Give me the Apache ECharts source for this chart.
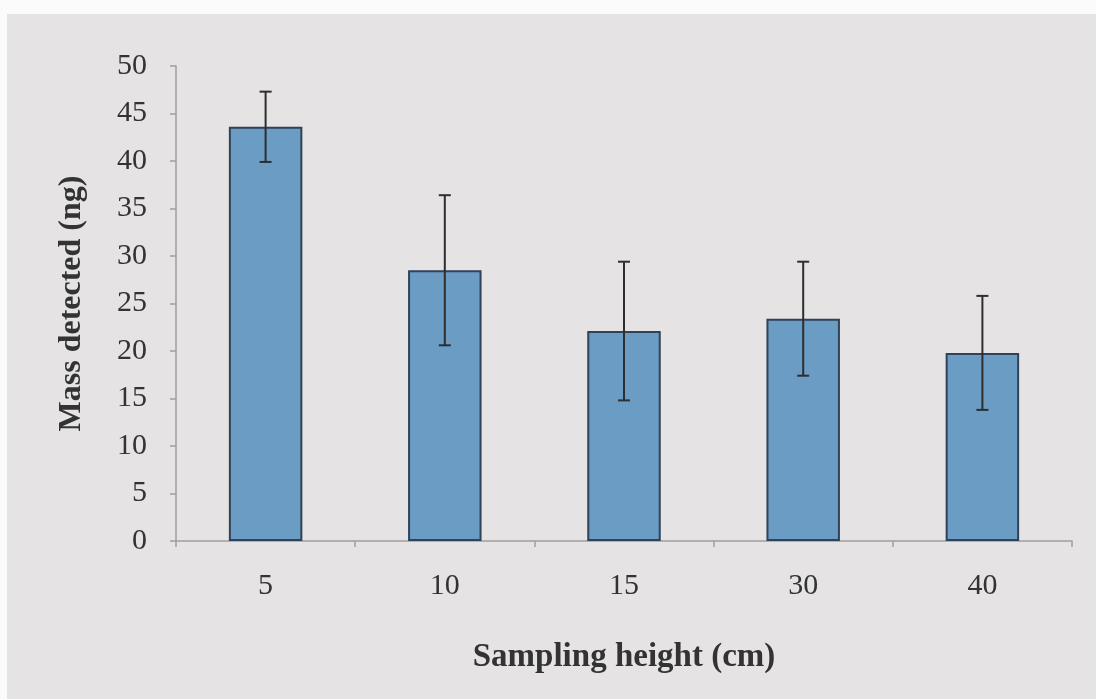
<!DOCTYPE html>
<html>
<head>
<meta charset="utf-8">
<script src="https://cdn.jsdelivr.net/npm/echarts@6/dist/echarts.min.js"></script>
<style>
  html, body { margin: 0; padding: 0; background: #fbfbfb; }
  #chart { width: 1096px; height: 699px; }
</style>
</head>
<body>
<div id="chart"></div>
<script>
// Sampling heights (cm) and mean mass detected (ng) with standard deviations
const heights = ['5', '10', '15', '30', '40'];
const massMean = [43.6, 28.5, 22.1, 23.4, 19.8];
const massErr = [3.7, 7.9, 7.3, 6.0, 6.0];
const yTicks = { min: 0, max: 50, interval: 5 };

const errorData = heights.map((h, i) => [i, massMean[i] - massErr[i], massMean[i] + massErr[i]]);

const serif = '"Liberation Serif", "DejaVu Serif", serif';
const chart = echarts.init(document.getElementById('chart'), null, { renderer: 'canvas' });

chart.setOption({
  backgroundColor: '#fbfbfb',
  animation: false,
  graphic: [{
    type: 'rect',
    z: -10,
    silent: true,
    shape: { x: 7, y: 14, width: 1089, height: 685 },
    style: { fill: '#e5e3e3' }
  }],
  grid: { left: 176, right: 24, top: 66, bottom: 158 },
  xAxis: {
    type: 'category',
    data: heights,
    boundaryGap: true,
    axisLine: { lineStyle: { color: '#a09e9e', width: 1.5 } },
    axisTick: { show: true, alignWithLabel: false, length: 6, lineStyle: { color: '#a09e9e', width: 1.5 } },
    axisLabel: { color: '#333', fontFamily: serif, fontSize: 30, margin: 30 },
    name: 'Sampling height (cm)',
    nameLocation: 'middle',
    nameGap: 100,
    nameTextStyle: { color: '#333', fontFamily: serif, fontSize: 33, fontWeight: 'bold' }
  },
  yAxis: {
    type: 'value',
    min: yTicks.min,
    max: yTicks.max,
    interval: yTicks.interval,
    splitLine: { show: false },
    axisLine: { show: true, lineStyle: { color: '#a09e9e', width: 1.5 } },
    axisTick: { show: true, length: 6, lineStyle: { color: '#a09e9e', width: 1.5 } },
    axisLabel: { color: '#333', fontFamily: serif, fontSize: 30, margin: 29 },
    name: 'Mass detected (ng)',
    nameLocation: 'middle',
    nameRotate: 90,
    nameGap: 88,
    nameTextStyle: { color: '#333', fontFamily: serif, fontSize: 32, fontWeight: 'bold' }
  },
  series: [
    {
      type: 'bar',
      data: massMean,
      barWidth: '41%',
      itemStyle: { color: '#6b9cc4', borderColor: '#2f4258', borderWidth: 2 }
    },
    {
      type: 'custom',
      data: errorData,
      z: 10,
      renderItem: function (params, api) {
        const x = api.value(0);
        const lo = api.coord([x, api.value(1)]);
        const hi = api.coord([x, api.value(2)]);
        const cap = 6;
        const style = { stroke: '#2e2e2e', lineWidth: 2 };
        return {
          type: 'group',
          children: [
            { type: 'line', shape: { x1: hi[0], y1: hi[1], x2: lo[0], y2: lo[1] }, style: style },
            { type: 'line', shape: { x1: hi[0] - cap, y1: hi[1], x2: hi[0] + cap, y2: hi[1] }, style: style },
            { type: 'line', shape: { x1: lo[0] - cap, y1: lo[1], x2: lo[0] + cap, y2: lo[1] }, style: style }
          ]
        };
      }
    }
  ]
});
</script>
</body>
</html>
